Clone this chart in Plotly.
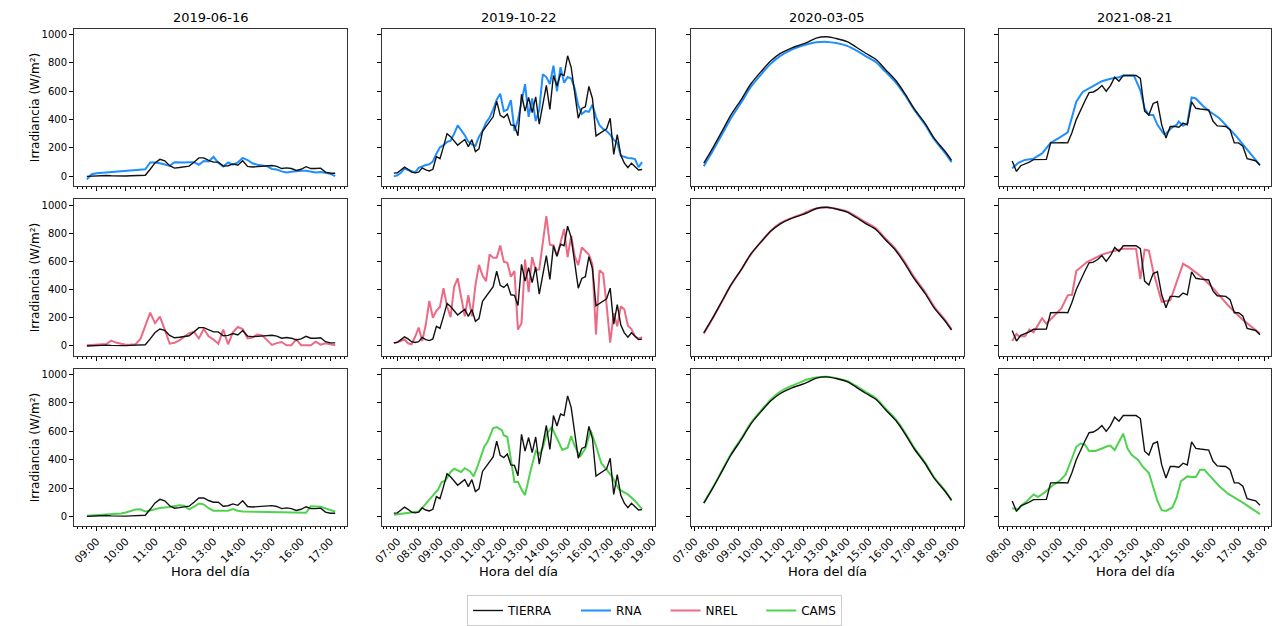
import pandas as pd
import plotly.graph_objects as go

# ---------------- labels / categories ----------------
DATES = ["2019-06-16", "2019-10-22", "2020-03-05", "2021-08-21"]
SERIES = ["TIERRA", "RNA", "NREL", "CAMS"]
ROW_MODELS = ["RNA", "NREL", "CAMS"]
COLORS = {"TIERRA": "#111111", "RNA": "#1e8fff", "NREL": "#ec6a84", "CAMS": "#4fd34f"}
Y_TICKS = [0, 200, 400, 600, 800, 1000]
Y_LABEL = "Irradiancia (W/m²)"
X_LABEL = "Hora del día"

# ---------------- column 1 : 2019-06-16 ----------------
c1_tierra_start = "08:40"   # 10-min samples
c1_tierra = [0, 2, 5, 8, 6, 4, 2, 1, 2, 4, 6, 7, 8, 50, 95, 120, 110, 75, 58, 62,
             65, 72, 100, 130, 130, 112, 100, 100, 72, 75, 88, 78, 110, 70, 66, 68,
             72, 72, 76, 70, 55, 60, 55, 42, 50, 68, 55, 55, 58, 30, 22, 22]
c1_rna_t = ["08:40", "08:50", "09:00", "10:40", "10:50", "11:00", "11:10", "11:20", "11:30",
            "11:40", "11:50", "12:00", "12:10", "12:20", "12:30", "12:40", "12:50", "13:00",
            "13:10", "13:20", "13:30", "13:40", "13:50", "14:00", "14:10", "14:20", "14:30",
            "14:40", "14:50", "15:00", "15:10", "15:20", "15:30", "15:40", "15:50", "16:00",
            "16:10", "16:20", "16:30", "16:40", "16:50", "17:00", "17:10"]
c1_rna = [-20, 15, 22, 50, 98, 98, 92, 85, 75, 100, 98, 98, 100, 100, 82, 108, 105, 138,
          95, 70, 98, 82, 98, 130, 115, 92, 82, 78, 72, 52, 48, 35, 28, 32, 38, 40, 40,
          32, 28, 30, 25, 18, 2]
c1_nrel_start = "08:40"
c1_nrel = [5, 8, 10, 12, 14, 38, 24, 16, 9, 10, 12, 50, 150, 236, 162, 208, 116, 16, 23,
           40, 65, 90, 100, 53, 120, 69, 46, 16, 116, 12, 97, 134, 120, 53, 60, 81, 75, 40,
           7, 20, 28, 5, 5, 46, 5, 5, 5, 30, 9, 19, 12, 5]
c1_cams_t = ["08:40", "09:50", "10:00", "10:20", "10:30", "10:40", "10:50", "11:10", "11:30",
             "11:50", "12:00", "12:10", "12:20", "12:30", "12:40", "12:50", "13:00", "13:30",
             "13:40", "13:50", "14:00", "14:50", "15:20", "16:00", "16:10", "16:20", "16:40",
             "17:00", "17:10"]
c1_cams = [5, 20, 28, 48, 50, 35, 42, 60, 66, 78, 75, 50, 68, 90, 85, 58, 40, 40, 52, 40,
           35, 32, 28, 24, 25, 72, 68, 45, 35]

# ---------------- column 2 : 2019-10-22 ----------------
c2_start = "06:50"   # 10-min samples
c2_tierra = [23, 25, 45, 65, 50, 30, 25,
             30, 60, 45, 38, 50, 140,
             125, 210, 301, 280, 250, 220,
             240, 260, 210, 259, 175, 194,
             317, 350, 390, 420, 530, 430,
             415, 440, 363, 359, 287, 579,
             460, 556, 450, 560, 368, 510,
             641, 472, 711, 637, 722, 711,
             850, 769, 595, 410, 479, 491,
             634, 549, 285, 301, 315, 335,
             410, 155, 294, 148, 93, 62,
             93, 70, 45, 48]
c2_rna = [0, 8, 25, 55, 45, 35, 28,
          60, 72, 80, 85, 105, 160,
          205, 220, 243, 252, 300, 360,
          325, 290, 245, 225, 215, 280,
          320, 380, 415, 470, 540, 583,
          460, 470, 537, 320, 400, 520,
          650, 420, 549, 390, 470, 720,
          700, 650, 780, 600, 770, 660,
          700, 690, 620, 500, 440, 460,
          455, 505, 420, 360, 335, 320,
          294, 259, 235, 145, 135, 130,
          127, 122, 65, 100]
c2_nrel = [19, 28, 37, 46, 19, 12, 65,
           130, 35, 150, 320, 200, 250,
           278, 410, 282, 204, 420, 480,
           350, 210, 360, 210, 430, 575,
           500, 460, 650, 625, 625, 713,
           597, 590, 491, 532, 116, 162,
           613, 382, 630, 537, 544, 741,
           921, 718, 713, 637, 736, 829,
           630, 782, 637, 574, 699, 671,
           648, 579, 81, 537, 514, 289,
           23, 232, 139, 282, 259, 144,
           120, 69, 51, 62]
c2_cams_t = ["06:50", "08:00", "08:15", "08:30", "08:40", "08:55", "09:05", "09:15", "09:30",
             "09:40", "10:00", "10:10", "10:25", "10:35", "10:45", "11:05", "11:15", "11:30",
             "11:40", "11:55", "12:00", "12:10", "12:30", "12:40", "12:50", "13:00", "13:15",
             "13:30", "13:40", "13:50", "14:00", "14:15", "14:30", "14:45", "15:00", "15:10",
             "15:20", "15:35", "15:50", "16:05", "16:20", "16:35", "16:50", "17:05", "17:25",
             "17:50", "18:10", "18:30"]
c2_cams = [12, 35, 74, 115, 145, 190, 243, 250, 313, 336, 313, 340, 317, 282, 345, 491,
           530, 623, 630, 606, 572, 560, 243, 243, 190, 150, 317, 461, 438, 484, 576, 630,
           549, 468, 484, 567, 498, 421, 479, 606, 498, 375, 329, 282, 190, 155, 109, 51]

# ---------------- column 3 : 2020-03-05 ----------------
c3_t = ["07:25", "07:50", "08:15", "08:40", "09:10", "09:35", "10:05", "10:30", "10:55",
        "11:25", "11:55", "12:10", "12:35", "13:05", "13:30", "14:00", "14:25", "14:50",
        "15:20", "15:45", "16:15", "16:40", "17:05", "17:35", "18:00", "18:30", "18:48"]
c3_tierra = [93, 201, 317, 433, 549, 653, 745, 815, 865, 903, 930, 945, 975, 984, 972, 950,
             912, 870, 824, 755, 674, 581, 477, 373, 270, 177, 113]
c3_rna = [72, 180, 295, 410, 528, 632, 725, 795, 848, 890, 920, 932, 945, 948, 940, 920,
          888, 850, 805, 740, 660, 572, 470, 365, 262, 165, 100]
c3_nrel = [88, 198, 315, 432, 548, 652, 745, 818, 870, 905, 935, 952, 975, 982, 974, 955,
           920, 880, 834, 765, 684, 592, 488, 383, 280, 185, 118]
c3_cams = [95, 205, 322, 440, 556, 660, 752, 825, 878, 918, 950, 965, 980, 984, 975, 955,
           920, 880, 832, 763, 682, 590, 485, 380, 276, 182, 115]

# ---------------- column 4 : 2021-08-21 ----------------
c4_tierra_start = "08:10"   # 10-min samples
c4_tierra = [109, 35, 75, 85, 100,
             118, 120, 120, 120, 236, 238,
             240, 238, 236, 310, 400, 470,
             530, 590, 595, 613, 641, 600,
             640, 699, 671, 711, 711, 711,
             711, 690, 460, 433, 514, 526,
             363, 271, 352, 352, 347, 375,
             363, 526, 480, 475, 472, 468,
             390, 356, 354, 352, 329, 236,
             236, 213, 125, 120, 110, 79]
c4_rna_t = ["08:10", "08:25", "08:40", "09:00", "09:20", "09:40", "10:00", "10:20", "10:40",
            "10:55", "11:15", "11:40", "12:00", "12:20", "12:30", "12:55", "13:10", "13:20",
            "13:30", "13:40", "13:50", "14:05", "14:10", "14:25", "14:35", "14:40", "14:50",
            "15:00", "15:10", "15:20", "15:35", "15:50", "16:15", "16:35", "16:55", "17:10",
            "17:30", "17:50"]
c4_rna = [58, 97, 116, 125, 162, 236, 271, 310, 526, 595, 630, 671, 688, 699, 711, 711, 607,
          479, 433, 433, 363, 299, 301, 347, 363, 387, 357, 375, 556, 549, 502, 463, 410,
          347, 282, 225, 155, 79]
c4_nrel_t = ["08:10", "08:20", "08:25", "08:40", "08:50", "09:00", "09:20", "09:30", "10:05",
             "10:20", "10:30", "10:40", "11:05", "11:40", "12:10", "12:30", "13:00", "13:10",
             "13:20", "13:30", "13:40", "14:00", "14:20", "14:50", "15:05", "15:35", "16:05",
             "16:35", "17:10", "17:50"]
c4_nrel = [35, 86, 69, 69, 116, 97, 197, 157, 266, 359, 363, 532, 595, 648, 676, 690, 690,
           475, 683, 676, 532, 313, 324, 583, 556, 486, 394, 289, 185, 88]
c4_cams_t = ["08:10", "08:25", "08:35", "08:45", "09:00", "09:10", "09:25", "09:45", "10:00",
             "10:15", "10:30", "10:40", "10:50", "11:00", "11:10", "11:25", "11:40", "11:55",
             "12:00", "12:10", "12:20", "12:30", "12:40", "12:50", "13:05", "13:15", "13:30",
             "13:40", "13:50", "14:00", "14:10", "14:25", "14:35", "14:45", "15:00", "15:10",
             "15:20", "15:30", "15:40", "15:50", "16:15", "16:35", "17:10", "17:50"]
c4_cams = [58, 51, 86, 109, 155, 137, 167, 220, 248, 294, 410, 491, 514, 507, 461, 461, 479,
           498, 498, 468, 526, 583, 479, 433, 398, 352, 306, 201, 109, 44, 39, 63, 132, 248,
           282, 278, 278, 329, 329, 294, 213, 160, 97, 16]

# x-axis windows per column (what the reference axes show)
X_RANGES = [("08:13:36", "17:34:18"), ("06:17:40", "19:07:30"),
            ("06:49:00", "19:21:40"), ("07:39:20", "18:16:10")]


def grid(date, start, n):
    return pd.date_range(f"{date} {start}", periods=n, freq="10min")


def at(date, times):
    return pd.to_datetime([f"{date} {t}" for t in times])


D1, D2, D3, D4 = DATES
data = {
    (0, "TIERRA"): (grid(D1, c1_tierra_start, len(c1_tierra)), c1_tierra),
    (0, "RNA"): (at(D1, c1_rna_t), c1_rna),
    (0, "NREL"): (grid(D1, c1_nrel_start, len(c1_nrel)), c1_nrel),
    (0, "CAMS"): (at(D1, c1_cams_t), c1_cams),
    (1, "TIERRA"): (grid(D2, c2_start, len(c2_tierra)), c2_tierra),
    (1, "RNA"): (grid(D2, c2_start, len(c2_rna)), c2_rna),
    (1, "NREL"): (grid(D2, c2_start, len(c2_nrel)), c2_nrel),
    (1, "CAMS"): (at(D2, c2_cams_t), c2_cams),
    (2, "TIERRA"): (at(D3, c3_t), c3_tierra),
    (2, "RNA"): (at(D3, c3_t), c3_rna),
    (2, "NREL"): (at(D3, c3_t), c3_nrel),
    (2, "CAMS"): (at(D3, c3_t), c3_cams),
    (3, "TIERRA"): (grid(D4, c4_tierra_start, len(c4_tierra)), c4_tierra),
    (3, "RNA"): (at(D4, c4_rna_t), c4_rna),
    (3, "NREL"): (at(D4, c4_nrel_t), c4_nrel),
    (3, "CAMS"): (at(D4, c4_cams_t), c4_cams),
}

W, H = 1280, 626
COL_PX = [(54, 332), (368, 646), (682, 960), (996, 1273)]
ROW_PX = [(29, 189), (202, 361), (374, 534)]
FONT = "DejaVu Sans"
PAD = "\u00a0" * 5   # trailing gap after legend text, as in the reference legend

fig = go.Figure()
layout = dict(
    width=W, height=H, margin=dict(l=0, r=0, t=0, b=0),
    paper_bgcolor="white", plot_bgcolor="white",
    font=dict(family=FONT, color="#000000"),
    showlegend=True,
    legend=dict(orientation="h", x=0.504, xanchor="center", y=1 - 604 / H, yanchor="top",
                bordercolor="#cccccc", borderwidth=1, font=dict(size=12, family=FONT),
                bgcolor="white", itemwidth=30),
)
shown = set()
rank = {s: i + 1 for i, s in enumerate(SERIES)}

for r in range(3):
    for c in range(4):
        idx = r * 4 + c + 1
        xa = "x" if idx == 1 else f"x{idx}"
        ya = "y" if idx == 1 else f"y{idx}"
        for name in (ROW_MODELS[r], "TIERRA"):
            xs, ys = data[(c, name)]
            fig.add_trace(go.Scatter(
                x=xs, y=ys, mode="lines",
                name=name + (PAD if name != "CAMS" else ""), xaxis=xa, yaxis=ya,
                line=dict(color=COLORS[name], width=1.4 if name == "TIERRA" else 2.0,
                          shape="spline" if c == 2 else "linear", smoothing=0.8),
                showlegend=name not in shown, legendrank=rank[name],
                hoverinfo="skip"))
            shown.add(name)
        x0, x1 = COL_PX[c]
        y0, y1 = ROW_PX[r]
        date = DATES[c]
        layout["xaxis" if idx == 1 else f"xaxis{idx}"] = dict(
            domain=[x0 / W, x1 / W], anchor=ya, type="date",
            range=[f"{date} {X_RANGES[c][0]}", f"{date} {X_RANGES[c][1]}"],
            tick0=f"{date} 00:00", dtick=3600000, tickformat="%H:%M",
            showticklabels=(r == 2), tickangle=-45, ticklabelshift=0,
            tickfont=dict(size=10.5, family=FONT, color="#000"),
            ticks="outside", ticklen=4, tickwidth=1, tickcolor="#000",
            minor=dict(dtick=600000, ticks="outside", ticklen=2, tickwidth=0.7,
                       tickcolor="#000", showgrid=False),
            showline=True, linecolor="#333", linewidth=1, mirror=True,
            showgrid=False, zeroline=False,
        )
        layout["yaxis" if idx == 1 else f"yaxis{idx}"] = dict(
            domain=[1 - y1 / H, 1 - y0 / H], anchor=xa, range=[-70, 1042],
            tickvals=Y_TICKS, showticklabels=(c == 0),
            tickfont=dict(size=10, family=FONT, color="#000"),
            ticks="outside", ticklen=4, tickwidth=1, tickcolor="#000",
            showline=True, linecolor="#333", linewidth=1, mirror=True,
            showgrid=False, zeroline=False,
        )

annotations = []
for c, date in enumerate(DATES):
    x0, x1 = COL_PX[c]
    annotations.append(dict(text=date, x=(x0 + x1) / 2 / W, y=1 - 18 / H, xref="paper",
                            yref="paper", showarrow=False, xanchor="center", yanchor="middle",
                            font=dict(size=13, family=FONT)))
    annotations.append(dict(text=X_LABEL, x=(x0 + x1) / 2 / W, y=1 - 580 / H, xref="paper",
                            yref="paper", showarrow=False, xanchor="center", yanchor="middle",
                            font=dict(size=13, family=FONT)))
for r in range(3):
    y0, y1 = ROW_PX[r]
    annotations.append(dict(text=Y_LABEL, x=15 / W, y=1 - (y0 + y1) / 2 / H, xref="paper",
                            yref="paper", showarrow=False, textangle=-90, xanchor="center",
                            yanchor="middle", font=dict(size=12, family=FONT)))
layout["annotations"] = annotations

fig.update_layout(**layout)
fig.write_html("out.html",
               config={"displayModeBar": False},
               post_script="document.body.style.margin='0px';"
                           "document.documentElement.style.overflow='hidden';"
                           "document.body.style.overflow='hidden';")
